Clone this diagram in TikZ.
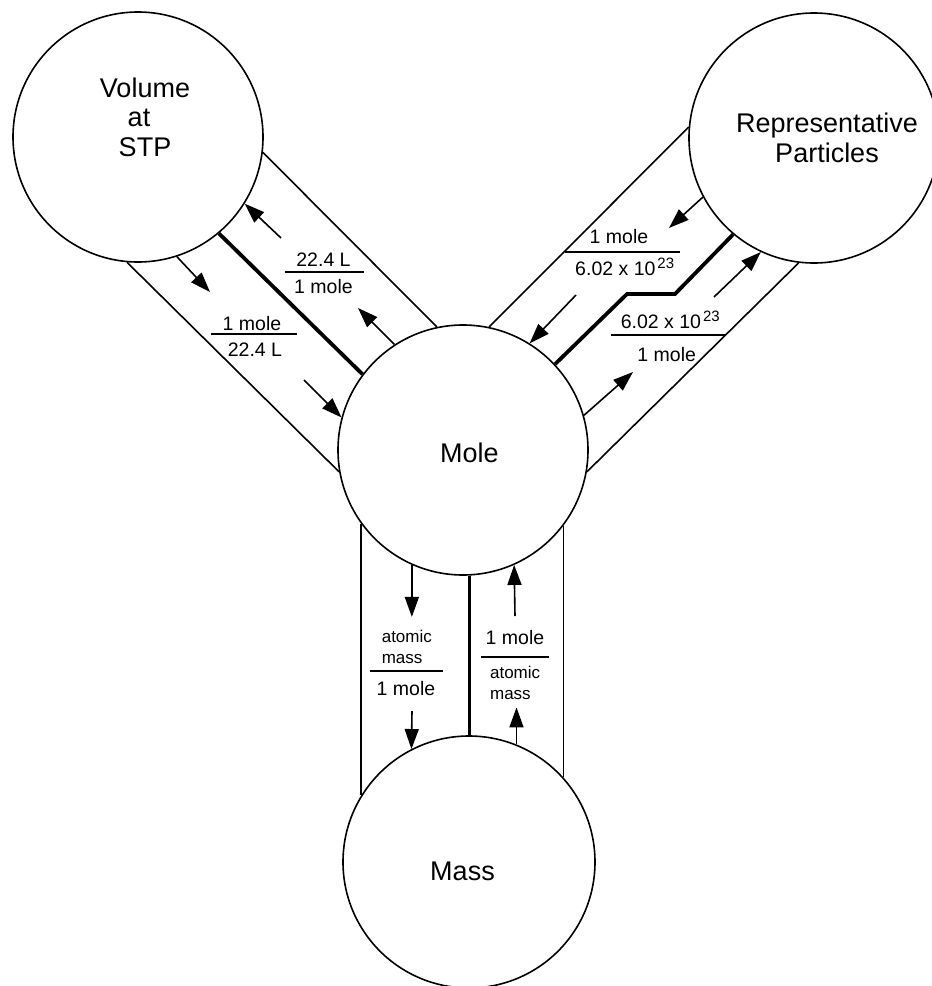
\documentclass[tikz,border=0pt]{standalone}
\usepackage{fontspec}
\setmainfont{Liberation Sans}
\usetikzlibrary{arrows.meta}

\begin{document}
\begin{tikzpicture}[x=1pt,y=-1pt,line width=1.6pt,
  circ/.style={draw,circle,minimum size=250pt,inner sep=0pt},
  big/.style={font=\fontsize{27}{29.5}\selectfont,align=center,inner sep=0pt},
  lbl/.style={font=\fontsize{19.5}{22}\selectfont,inner sep=0pt,anchor=base},
  sml/.style={font=\fontsize{17}{20}\selectfont,inner sep=0pt,anchor=base west},
  arr/.style={-{Triangle[length=20pt,width=14pt]}},
  heavy/.style={line width=3.8pt}]
\useasboundingbox (0,0) rectangle (932,986);
\node [circ] (vol) at (138,137) {};
\node [circ] (rep) at (814,138) {};
\node [circ] (mole) at (463,450) {};
\node [circ,minimum size=252pt] (mass) at (469,862) {};
\node [big] (voltxt) at (145,117.3) {Volume\\at\kern12pt\\STP};
\node [big] (reptxt) at (827,138) {Representative\\Particles};
\node [big,anchor=base] (moletxt) at (469.5,462.7) {Mole};
\node [big,anchor=base] (masstxt) at (462.5,880.7) {Mass};
\draw (vol.-7) -- (mole.102);
\draw (vol.-95) -- (mole.-170);
\draw [heavy] (vol.-50) -- (mole.143);
\draw (rep.175) -- (mole.78);
\draw (rep.-97) -- (mole.-10);
\draw [heavy] (mole.43) -- (627,294) -- (675,294) -- (rep.-130);
\draw (mole.-144) -- (mole.-144 |- mass.148);
\draw (mole.-37) -- (mole.-37 |- mass.42);
\draw [heavy] (mole.-87) -- (mole.-87 |- mass.north);
\draw [arr] (281,238) -- (vol.-32);
\draw [arr] (mole.123) -- (358,308);
\draw [arr] (vol.-72) -- (210,292);
\draw [arr] (304,380) -- (mole.165);
\draw [arr] (rep.-152) -- (669,228);
\draw [arr] (576,295) -- (mole.58);
\draw [arr] (mole.16) -- (633,372);
\draw [arr] (714,297) -- (rep.-115);
\draw [arr] (mole.-114) -- ++(0,52);
\draw [arr] (412,711) -- (mass.117);
\draw [arr] (515,616) -- (mole.-66);
\draw [arr] (mass.68) -- ++(0,-37);
\node [lbl] (lvtop) at (323.5,266.7) {22.4 L};
\draw (285,272) -- (364,272);
\node [lbl] (lvbot) at (323.5,293.3) {1 mole};
\node [lbl] (vltop) at (252,330) {1 mole};
\draw (211,334) -- (297,334);
\node [lbl] (vlbot) at (255,356) {22.4 L};
\node [lbl] (rptop) at (619,243.3) {1 mole};
\draw (565,252) -- (680,252);
\node [lbl] (rpbot) at (624.7,275) {6.02 x 10\kern2pt\raisebox{6.5pt}{\fontsize{15}{15}\selectfont 23}};
\node [lbl] (prtop) at (670.3,328.3) {6.02 x 10\kern2pt\raisebox{6.5pt}{\fontsize{15}{15}\selectfont 23}};
\draw (611,335) -- (726,335);
\node [lbl] (prbot) at (666.7,361.7) {1 mole};
\node [sml] (mstopa) at (381,642) {atomic};
\node [sml] (mstopb) at (381,663.7) {mass};
\draw (370,671) -- (443,671);
\node [lbl] (msbot) at (406,695.3) {1 mole};
\node [lbl] (smtop) at (515,644.7) {1 mole};
\draw (481,657) -- (549,657);
\node [sml] (smbota) at (489.3,678) {atomic};
\node [sml] (smbotb) at (489.3,699) {mass};
\end{tikzpicture}
\end{document}
